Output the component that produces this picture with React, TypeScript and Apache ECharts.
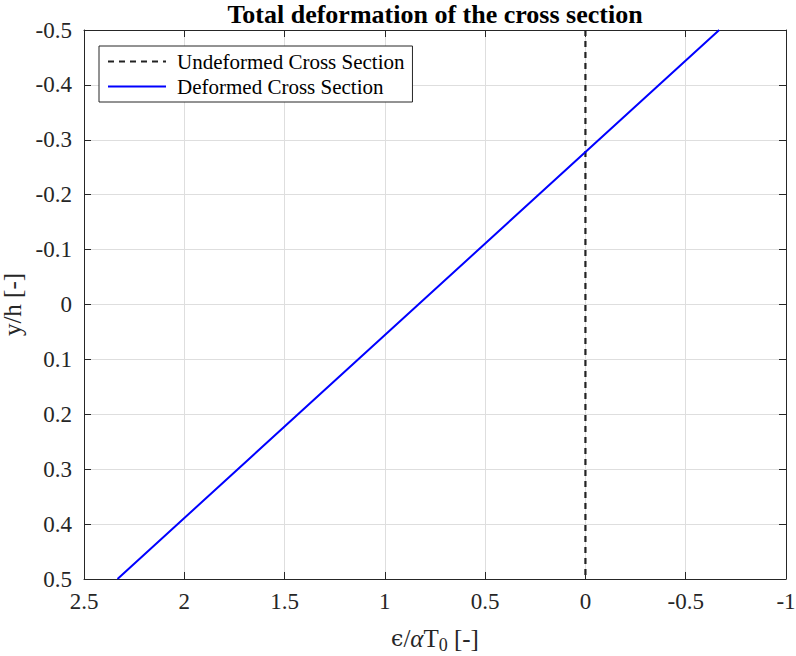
import React, { useEffect, useRef } from "react";
import * as echarts from "echarts";

const title = "Total deformation of the cross section";
const undeformedName = "Undeformed Cross Section";
const deformedName = "Deformed Cross Section";

// Undeformed cross section: strain 0 over the whole height
const undeformedStrain = [0, 0];
const undeformedY = [-0.5, 0.5];

// Deformed cross section: linear strain distribution
const deformedStrain = [2.333, 0.833, -0.667];
const deformedY = [0.5, 0, -0.5];

const xMin = -1;
const xMax = 2.5;
const xStep = 0.5;
const yMin = -0.5;
const yMax = 0.5;
const yStep = 0.1;

const FONT = "'Liberation Serif', 'Times New Roman', serif";
const AX = "#262626";

export default function App() {
  const ref = useRef<HTMLDivElement>(null);
  useEffect(() => {
    if (!ref.current) return;
    const chart = echarts.init(ref.current, null, { renderer: "svg" });
    const baseX = {
      type: "value",
      inverse: true,
      min: xMin,
      max: xMax,
      interval: xStep,
    };
    const baseY = {
      type: "value",
      inverse: true,
      min: yMin,
      max: yMax,
      interval: yStep,
    };
    chart.setOption({
      animation: false,
      backgroundColor: "#ffffff",
      title: {
        text: title,
        left: 430,
        top: -4,
        textAlign: "center",
        textStyle: { fontFamily: FONT, fontSize: 26, fontWeight: "bold", color: "#000" },
      },
      legend: {
        orient: "vertical",
        left: 99,
        top: 46,
        itemWidth: 58,
        itemHeight: 22,
        itemGap: 4,
        padding: [5, 8, 5, 8],
        borderColor: AX,
        borderWidth: 1,
        backgroundColor: "#fff",
        borderRadius: 0,
        itemStyle: { opacity: 0, color: "transparent", borderWidth: 0 },
        textStyle: { fontFamily: FONT, fontSize: 21, color: "#000", padding: [0, 0, 0, 6] },
        data: [undeformedName, deformedName],
      },
      grid: {
        left: 84,
        right: 10,
        top: 30,
        bottom: 77,
        containLabel: false,
        outerBoundsMode: "none",
      },
      xAxis: [
        {
          ...baseX,
          position: "bottom",
          name: "{e|ϵ}/{a|α}T{s|0} [-]",
          nameLocation: "middle",
          nameGap: 43,
          nameTextStyle: {
            fontFamily: FONT,
            fontSize: 25,
            color: AX,
            rich: {
              e: { fontFamily: "'DejaVu Serif', serif", fontSize: 22, color: AX },
              a: { fontFamily: FONT, fontStyle: "italic", fontSize: 25, color: AX },
              s: { fontFamily: FONT, fontSize: 18, color: AX, padding: [14, 0, 0, 0] },
            },
          },
          axisLine: { show: true, onZero: false, lineStyle: { color: AX, width: 1 } },
          axisTick: { show: true, inside: true, length: 7, lineStyle: { color: AX } },
          axisLabel: { fontFamily: FONT, fontSize: 23, color: AX, margin: 11 },
          splitLine: { show: true, lineStyle: { color: "#dedede", width: 1 } },
        },
        {
          ...baseX,
          position: "top",
          axisLine: { show: true, onZero: false, lineStyle: { color: AX, width: 1 } },
          axisTick: { show: true, inside: true, length: 7, lineStyle: { color: AX } },
          axisLabel: { show: false },
          splitLine: { show: false },
        },
      ],
      yAxis: [
        {
          ...baseY,
          position: "left",
          name: "y/h [-]",
          nameLocation: "middle",
          nameGap: 46,
          nameRotate: 90,
          nameTextStyle: { fontFamily: FONT, fontSize: 25, color: AX },
          axisLine: { show: true, onZero: false, lineStyle: { color: AX, width: 1 } },
          axisTick: { show: true, inside: true, length: 7, lineStyle: { color: AX } },
          axisLabel: { fontFamily: FONT, fontSize: 23, color: AX, margin: 12 },
          splitLine: { show: true, lineStyle: { color: "#dedede", width: 1 } },
        },
        {
          ...baseY,
          position: "right",
          axisLine: { show: true, onZero: false, lineStyle: { color: AX, width: 1 } },
          axisTick: { show: true, inside: true, length: 7, lineStyle: { color: AX } },
          axisLabel: { show: false },
          splitLine: { show: false },
        },
      ],
      series: [
        {
          name: undeformedName,
          type: "line",
          xAxisIndex: 0,
          yAxisIndex: 0,
          symbol: "none",
          data: undeformedStrain.map((x, i) => [x, undeformedY[i]]),
          lineStyle: { color: "#222222", width: 2.2, type: [6, 5] },
          itemStyle: { color: "#222222" },
          z: 3,
        },
        {
          name: deformedName,
          type: "line",
          xAxisIndex: 0,
          yAxisIndex: 0,
          symbol: "none",
          data: deformedStrain.map((x, i) => [x, deformedY[i]]),
          lineStyle: { color: "#0000ff", width: 2 },
          itemStyle: { color: "#0000ff" },
          z: 4,
        },
      ],
    });
    return () => chart.dispose();
  }, []);
  return (
    <div
      ref={ref}
      style={{ position: "fixed", left: 0, top: 0, width: 796, height: 656, background: "#fff" }}
    />
  );
}
